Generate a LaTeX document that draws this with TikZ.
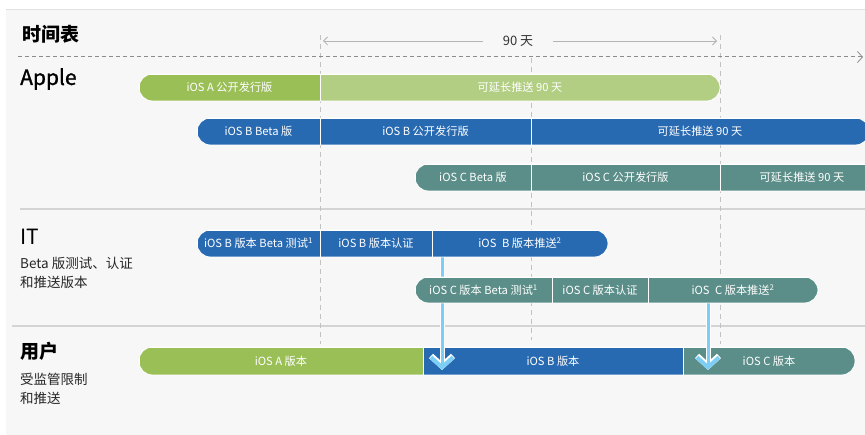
\documentclass[tikz,border=0pt]{standalone}
\usepackage{fontspec}
\setmainfont{Noto Sans CJK SC}
\newfontfamily\medfont[FakeBold=1.2]{Noto Sans CJK SC}
\usetikzlibrary{arrows.meta,positioning}
\definecolor{pagebg}{HTML}{F7F7F7}
\definecolor{agreen}{HTML}{9BBF57}
\definecolor{alight}{HTML}{B2CE82}
\definecolor{bblue}{HTML}{286AB2}
\definecolor{cteal}{HTML}{5B8E88}
\definecolor{pushblue}{HTML}{7DCEF5}
\definecolor{gridgray}{HTML}{C2C2C2}
\definecolor{sepgray}{HTML}{D4D4D4}
\definecolor{dimgray}{HTML}{B4B4B4}
\tikzset{
    seg/.style={
    rectangle,draw=white,line width=0.8pt,inner sep=0pt,minimum height=27pt,
    text=white,font=\fontsize{11.2}{13}\selectfont
    },
    barrim/.style={
    draw=white,line width=0.8pt,rounded corners=13.5pt
    },
    header/.style={
    anchor=west,inner sep=0pt,text=black,font=\fontsize{19}{22}\selectfont\bfseries
    },
    plainheader/.style={
    anchor=west,inner sep=0pt,text=black,font=\fontsize{21}{24}\selectfont
    },
    sublabel/.style={
    anchor=north west,inner sep=0pt,align=left,text=black!85,font=\fontsize{13.5}{19}\selectfont
    },
    vline/.style={
    draw=gridgray,dash pattern=on 5pt off 4pt,line width=0.8pt
    },
    sepline/.style={
    draw=sepgray,line width=1.3pt
    },
    timeline/.style={
    draw=black!45,dash pattern=on 4pt off 3pt,line width=1pt,
    -{Straight Barb[length=5pt,width=11pt,line width=0.8pt]}
    },
    dimline/.style={
    draw=dimgray,line width=0.8pt
    },
    push/.style={
    draw=pushblue,line width=3pt,
    -{Straight Barb[length=10pt,width=22pt,line width=4pt]},
    preaction={draw=white,line width=5pt,
      -{Straight Barb[length=10pt,width=22pt,line width=6pt]}}
    },
}
\begin{document}
\begin{tikzpicture}[x=1pt,y=-1pt]
  \useasboundingbox (0,0) rectangle (865,435);
  \fill[white] (0,0) rectangle (865,435);
  \fill[pagebg] (6,9) rectangle (865,435);
  \draw[sepgray!70,line width=0.6pt] (6,9) -- (865,9);

  % headers
  \node[header] (hTime) at (22,34) {时间表};
  \node[plainheader,font=\fontsize{21}{24}\medfont] (hApple) at (20,79) {Apple};
  \node[plainheader] (hIT) at (20,237) {IT};
  \node[sublabel] (sIT) at (20,257) {Beta 版测试、认证\\和推送版本};
  \node[header] (hUser) at (20,351) {用户};
  \node[sublabel] (sUser) at (20,373) {受监管限制\\和推送};

  % separators
  \draw[sepline] (20,209) -- (865,209);
  \draw[sepline] (12,326) -- (865,326);

  % day marks
  \draw[vline] (320,35) -- (320,344);
  \draw[vline] (531,58) -- (531,340);
  \draw[vline] (720,35) -- (720,344);

  % time axis
  \coordinate (tl0) at (18,57);
  \coordinate (tl1) at (863,57);
  \draw[timeline] (tl0) -- (tl1);

  \node[inner xsep=20pt,inner ysep=2pt,text=black!80,font=\fontsize{13}{15}\selectfont] (ninety) at (518,41) {90 天};
  \coordinate (dimL) at (323,41);
  \coordinate (dimR) at (717,41);
  \draw[dimline,{Straight Barb[length=4pt,width=8pt]}-] (dimL) -- (ninety.west);
  \draw[dimline,-{Straight Barb[length=4pt,width=8pt]}] (ninety.east) -- (dimR);

  % Apple: iOS A
  \begin{scope}
    \clip[rounded corners=13.5pt] (139,74) rectangle (720,101);
    \node[seg,fill=agreen,minimum width=181pt] (a1) at (229.5,87.5) {iOS A 公开发行版};
    \node[seg,fill=alight,minimum width=400pt] (a2) at (520,87.5) {可延长推送 90 天};
  \end{scope}
  \draw[barrim] (139,74) rectangle (720,101);

  % Apple: iOS B
  \begin{scope}
    \clip[rounded corners=13.5pt] (197,118) rectangle (869,145);
    \node[seg,fill=bblue,minimum width=123pt] (b1) at (258.5,131.5) {iOS B Beta 版};
    \node[seg,fill=bblue,minimum width=211pt] (b2) at (425.5,131.5) {iOS B 公开发行版};
    \node[seg,fill=bblue,minimum width=338pt] (b3) at (700,131.5) {可延长推送 90 天};
  \end{scope}
  \draw[barrim] (197,118) rectangle (869,145);

  % Apple: iOS C
  \begin{scope}
    \clip[rounded corners=13.5pt] (415,164) rectangle (882,191);
    \node[seg,fill=cteal,minimum width=116pt] (c1) at (473,177.5) {iOS C Beta 版};
    \node[seg,fill=cteal,minimum width=189pt] (c2) at (625.5,177.5) {iOS C 公开发行版};
    \node[seg,fill=cteal,minimum width=164pt] (c3) at (802,177.5) {可延长推送 90 天};
  \end{scope}
  \draw[barrim] (415,164) rectangle (882,191);

  % users
  \begin{scope}
    \clip[rounded corners=13.5pt] (139,347) rectangle (855,375);
    \node[seg,minimum height=28pt,fill=agreen,minimum width=284pt] (u1) at (281,361) {iOS A 版本};
    \node[seg,minimum height=28pt,fill=bblue,minimum width=260pt] (u2) at (553,361) {iOS B 版本};
    \node[seg,minimum height=28pt,fill=cteal,minimum width=172pt] (u3) at (769,361) {iOS C 版本};
  \end{scope}
  \draw[barrim] (139,347) rectangle (855,375);

  % push to users
  \coordinate (pushB) at (442,370);
  \coordinate (pushC) at (708,370);
  \draw[push] (pushB |- 0,257) -- (pushB);
  \draw[push] (pushC |- 0,303) -- (pushC);

  % IT: iOS B
  \begin{scope}
    \clip[rounded corners=13.5pt] (197,230) rectangle (608,257);
    \node[seg,fill=bblue,minimum width=123pt] (ib1) at (258.5,243.5) {iOS B 版本 Beta 测试\textsuperscript{1}};
    \node[seg,fill=bblue,minimum width=112pt] (ib2) at (376,243.5) {iOS B 版本认证};
    \node[seg,fill=bblue,minimum width=176pt] (ib3) at (520,243.5) {iOS\enspace B 版本推送\textsuperscript{2}};
  \end{scope}
  \draw[barrim] (197,230) rectangle (608,257);

  % IT: iOS C
  \begin{scope}
    \clip[rounded corners=13.5pt] (415,277) rectangle (818,303);
    \node[seg,minimum height=26pt,fill=cteal,minimum width=137pt] (ic1) at (483.5,290) {iOS C 版本 Beta 测试\textsuperscript{1}};
    \node[seg,minimum height=26pt,fill=cteal,minimum width=96pt] (ic2) at (600,290) {iOS C 版本认证};
    \node[seg,minimum height=26pt,fill=cteal,minimum width=170pt] (ic3) at (733,290) {iOS\enspace C 版本推送\textsuperscript{2}};
  \end{scope}
  \draw[barrim] (415,277) rectangle (818,303);
\end{tikzpicture}
\end{document}
